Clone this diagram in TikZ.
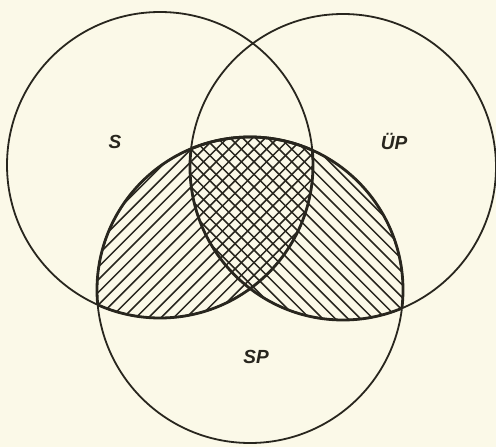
\documentclass[tikz,border=0pt]{standalone}
\usepackage{fontspec}
\setmainfont{Liberation Sans}
\definecolor{paper}{RGB}{251,249,232}
\definecolor{ink}{RGB}{40,38,30}
\begin{document}
\begin{tikzpicture}[x=1pt,y=-1pt,
  circ/.style={draw=ink,line width=1.8pt},
  thick outline/.style={draw=ink,line width=2.8pt},
  hatch/.style={draw=ink,line width=1.5pt},
  lbl/.style={font=\fontsize{19}{19}\selectfont\bfseries\itshape,text=ink}]
\fill[paper] (0,0) rectangle (496,447);
\useasboundingbox (0,0) rectangle (496,447);
\def\R{153}
\coordinate (cS) at (160,165);
\coordinate (cU) at (343,167);
\coordinate (cP) at (250,290);
% hatching S ∩ SP
\begin{scope}
  \clip (cS) circle (\R);
  \clip (cP) circle (\R);
  \foreach \c in {0,12.6,...,1000} \draw[hatch] (\c,0) -- (\c-500,500);
\end{scope}
% hatching UP ∩ SP
\begin{scope}
  \clip (cU) circle (\R);
  \clip (cP) circle (\R);
  \foreach \c in {-500,-487.4,...,500} \draw[hatch] (\c,0) -- (\c+500,500);
\end{scope}
% circles
\draw[circ] (cS) circle (\R);
\draw[circ] (cU) circle (\R);
\draw[circ] (cP) circle (\R);
% thick outline of hatched area
\begin{scope}
  \clip (cP) circle (\R);
  \draw[thick outline] (cS) circle (\R);
  \draw[thick outline] (cU) circle (\R);
\end{scope}
\begin{scope}
  \clip (cS) circle (\R);
  \draw[thick outline] (cP) circle (\R);
\end{scope}
\begin{scope}
  \clip (cU) circle (\R);
  \draw[thick outline] (cP) circle (\R);
\end{scope}
% labels
\node[lbl] (lS) at (115,142) {S};
\node[lbl] (lU) at (394,141) {ÜP};
\node[lbl] (lP) at (256,357) {SP};
\end{tikzpicture}
\end{document}
